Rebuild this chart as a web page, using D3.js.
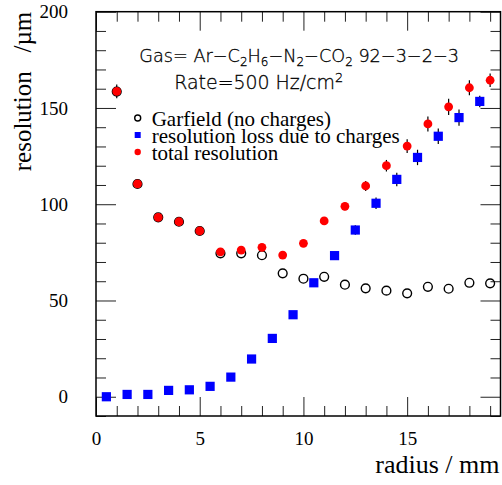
<!DOCTYPE html>
<html>
<head>
<meta charset="utf-8">
<script src="https://cdn.jsdelivr.net/npm/d3@7"></script>
<style>
  html, body { margin: 0; padding: 0; background: #fff; }
  svg { display: block; }
</style>
</head>
<body>
<svg id="chart" width="502" height="485"></svg>
<script>
// Resolution vs. radius: Garfield simulation, loss from space charge, and total
const radiusInt = [1, 2, 3, 4, 5, 6, 7, 8, 9, 10, 11, 12, 13, 14, 15, 16, 17, 18, 19];
const garfield  = [158.5, 110.5, 93.2, 90.9, 86.1, 74.5, 74.5, 73.5, 64.1, 61.3, 62.3, 58.2, 56.3, 55.1, 53.7, 57.1, 56.1, 59.2, 58.9];
const total     = [158.6, 110.6, 93.2, 90.9, 86.1, 75.3, 76.2, 77.6, 73.6, 79.7, 91.3, 98.9, 109.5, 120.0, 130.2, 141.7, 150.6, 160.5, 164.4];
const totalErr  = [3.6, 2, 1.5, 1.5, 1.5, 1.5, 1.5, 1.5, 1.5, 1.5, 2, 2, 2.6, 3, 3.6, 3.9, 4.2, 3.9, 3.5];

const radiusHalf = [0.5, 1.5, 2.5, 3.5, 4.5, 5.5, 6.5, 7.5, 8.5, 9.5, 10.5, 11.5, 12.5, 13.5, 14.5, 15.5, 16.5, 17.5, 18.5];
const loss       = [0, 1.2, 1.2, 3.3, 3.6, 5.4, 10.2, 19.6, 30.3, 42.6, 59.2, 73.3, 86.6, 100.5, 112.9, 124.3, 135.3, 145, 153.4];
const lossErr    = [0.5, 0.5, 0.5, 0.5, 0.5, 0.5, 1, 1, 1.5, 1.5, 2, 2, 2.5, 3, 3.5, 4, 4, 4.2, 3];

const xMajorTicks = [0, 5, 10, 15];
const yMajorTicks = [0, 50, 100, 150, 200];
const legendLabels = ["Garfield (no charges)", "resolution loss due to charges", "total resolution"];

const svg = d3.select("#chart");
const frame = { left: 96, right: 500.5, top: 11.7, bottom: 416 };

const x = d3.scaleLinear().domain([0, 19.5]).range([frame.left, frame.right]);
const y = d3.scaleLinear().domain([-10, 200]).range([frame.bottom, frame.top]);

const serif = "'Liberation Serif', 'Times New Roman', serif";

// minor ticks
const xMinor = d3.range(0, 20, 1).filter(v => v % 5 !== 0);
const yMinor = d3.range(-10, 201, 10).filter(v => v % 50 !== 0);

function styleAxis(g) {
  g.select(".domain").remove();
  g.selectAll(".tick line").attr("stroke", "#222").attr("stroke-width", 1);
}

// bottom
svg.append("g").attr("transform", `translate(0,${frame.bottom})`)
  .call(d3.axisBottom(x).tickValues(xMinor).tickSize(-10).tickFormat(""))
  .call(styleAxis);
svg.append("g").attr("transform", `translate(0,${frame.bottom})`)
  .call(d3.axisBottom(x).tickValues(xMajorTicks).tickSize(-19).tickPadding(15.5).tickFormat(d3.format("d")))
  .call(styleAxis)
  .call(g => g.selectAll("text").attr("font-family", serif).attr("font-size", 19).attr("fill", "#000"));
// top
svg.append("g").attr("transform", `translate(0,${frame.top})`)
  .call(d3.axisTop(x).tickValues(xMinor).tickSize(-10).tickFormat(""))
  .call(styleAxis);
svg.append("g").attr("transform", `translate(0,${frame.top})`)
  .call(d3.axisTop(x).tickValues(xMajorTicks).tickSize(-19).tickFormat(""))
  .call(styleAxis);
// left
svg.append("g").attr("transform", `translate(${frame.left},0)`)
  .call(d3.axisLeft(y).tickValues(yMinor).tickSize(-10).tickFormat(""))
  .call(styleAxis);
svg.append("g").attr("transform", `translate(${frame.left},0)`)
  .call(d3.axisLeft(y).tickValues(yMajorTicks).tickSize(-20).tickPadding(28).tickFormat(d3.format("d")))
  .call(styleAxis)
  .call(g => g.selectAll("text").attr("font-family", serif).attr("font-size", 19).attr("fill", "#000"));
// right
svg.append("g").attr("transform", `translate(${frame.right},0)`)
  .call(d3.axisRight(y).tickValues(yMinor).tickSize(-10).tickFormat(""))
  .call(styleAxis);
svg.append("g").attr("transform", `translate(${frame.right},0)`)
  .call(d3.axisRight(y).tickValues(yMajorTicks).tickSize(-20).tickFormat(""))
  .call(styleAxis);

// frame
svg.append("rect")
  .attr("x", frame.left).attr("y", frame.top)
  .attr("width", frame.right - frame.left).attr("height", frame.bottom - frame.top)
  .attr("fill", "none").attr("stroke", "#000").attr("stroke-width", 1.5);

// axis titles
svg.append("text")
  .attr("transform", `translate(31,${frame.top}) rotate(-90)`)
  .attr("text-anchor", "end")
  .attr("font-family", serif).attr("font-size", 25)
  .attr("xml:space", "preserve")
  .text("resolution\u00a0\u00a0\u00a0/\u00b5m");

svg.append("text")
  .attr("x", 499.5).attr("y", 472.5)
  .attr("text-anchor", "end")
  .attr("font-family", serif).attr("font-size", 26)
  .text("radius / mm");

// data layer
const plot = svg.append("g");

// Garfield: open circles
plot.selectAll(".garf").data(radiusInt.map((r, i) => ({ r, v: garfield[i] })))
  .join("circle")
  .attr("cx", d => x(d.r)).attr("cy", d => y(d.v)).attr("r", 4.4)
  .attr("fill", "none").attr("stroke", "#000").attr("stroke-width", 1.4);

// loss: blue squares with error bars
const lossData = radiusHalf.map((r, i) => ({ r, v: loss[i], e: lossErr[i] }));
plot.selectAll(".lossErr").data(lossData).join("line")
  .attr("x1", d => x(d.r)).attr("x2", d => x(d.r))
  .attr("y1", d => y(d.v - d.e)).attr("y2", d => y(d.v + d.e))
  .attr("stroke", "#000").attr("stroke-width", 1.2);
plot.selectAll(".lossPt").data(lossData).join("rect")
  .attr("x", d => x(d.r) - 4.6).attr("y", d => y(d.v) - 4.6)
  .attr("width", 9.2).attr("height", 9.2)
  .attr("fill", "#0000ff");

// total: red dots with error bars
const totalData = radiusInt.map((r, i) => ({ r, v: total[i], e: totalErr[i] }));
plot.selectAll(".totErr").data(totalData).join("line")
  .attr("x1", d => x(d.r)).attr("x2", d => x(d.r))
  .attr("y1", d => y(d.v - d.e)).attr("y2", d => y(d.v + d.e))
  .attr("stroke", "#000").attr("stroke-width", 1.2);
plot.selectAll(".totPt").data(totalData).join("circle")
  .attr("cx", d => x(d.r)).attr("cy", d => y(d.v)).attr("r", 4.4)
  .attr("fill", "#ff0000");

// legend
const legend = svg.append("g");
const legY = [118, 135, 152];
legend.append("circle").attr("cx", 137.7).attr("cy", legY[0]).attr("r", 3)
  .attr("fill", "none").attr("stroke", "#000").attr("stroke-width", 1.4);
legend.append("rect").attr("x", 134.7).attr("y", legY[1] - 3).attr("width", 6).attr("height", 6)
  .attr("fill", "#0000ff");
legend.append("circle").attr("cx", 137.7).attr("cy", legY[2]).attr("r", 3.2)
  .attr("fill", "#ff0000");
legend.selectAll(".lt").data(legendLabels).join("text")
  .attr("x", 151.7).attr("y", (d, i) => legY[i] + 8)
  .attr("font-family", serif).attr("font-size", 21)
  .text(d => d);

// annotation lines with sub/superscripts, sized to a target width
const sans = "'DejaVu Sans', sans-serif";
function richText(parts, xPos, yPos, targetWidth) {
  const t = svg.append("text").attr("x", xPos).attr("y", yPos)
    .attr("font-family", sans).attr("font-weight", 200).attr("font-size", 18)
    .attr("fill", "#000").attr("stroke", "#000").attr("stroke-width", 0.3);
  let shift = 0;
  parts.forEach(p => {
    const want = p.sub ? 4.5 : p.sup ? -7 : 0;
    t.append("tspan")
      .attr("dy", want - shift)
      .attr("font-size", p.sub || p.sup ? "68%" : null)
      .text(p.t);
    shift = want;
  });
  const w = t.node().getComputedTextLength();
  t.attr("font-size", 18 * targetWidth / w);
}
richText([
  { t: "Gas= Ar\u2212C" }, { t: "2", sub: true }, { t: "H" }, { t: "6", sub: true },
  { t: "\u2212N" }, { t: "2", sub: true }, { t: "\u2212CO" }, { t: "2", sub: true },
  { t: " 92\u22123\u22122\u22123" }
], 139.3, 61.7, 320);
richText([
  { t: "Rate=500 Hz/cm" }, { t: "2", sup: true }
], 174.3, 89.3, 169);
</script>
</body>
</html>
